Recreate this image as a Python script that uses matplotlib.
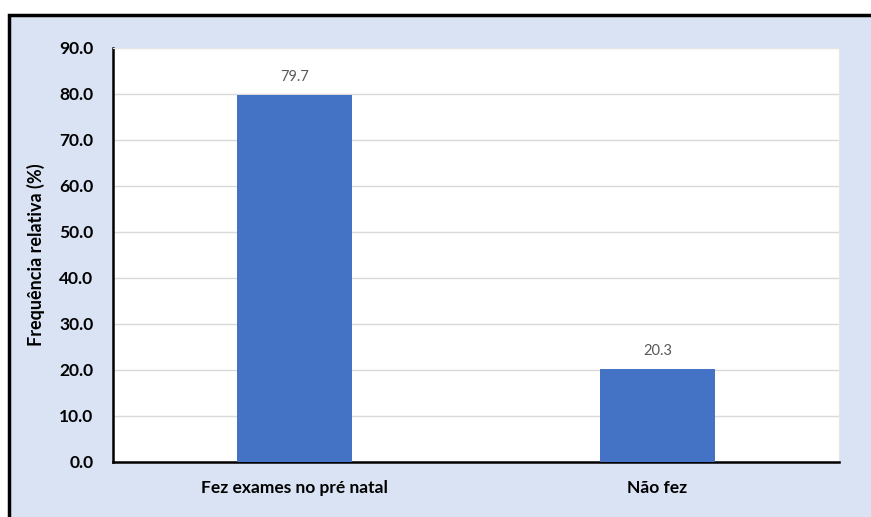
import matplotlib
matplotlib.use("Agg")
import matplotlib.pyplot as plt
from matplotlib.patches import Rectangle

categorias = ["Fez exames no pré natal", "Não fez"]
frequencias = [79.7, 20.3]
yticks = [0, 10, 20, 30, 40, 50, 60, 70, 80, 90]

plt.rcParams['font.family'] = ['Lato', 'DejaVu Sans']

fig = plt.figure(figsize=(8.71, 5.17), dpi=100)
fig.patch.set_facecolor("white")

# fundo azul com moldura preta (cortada à direita e em baixo)
fundo = Rectangle((9 / 871, -0.05), 1.0, 1 - 15 / 517 + 0.05,
                  transform=fig.transFigure, facecolor="#dae3f3",
                  edgecolor="black", linewidth=2.5, zorder=-5)
fig.patches.append(fundo)

ax = fig.add_axes([113 / 871, 1 - 462 / 517, (839 - 113) / 871, (462 - 48) / 517])
ax.set_zorder(2)
ax.set_facecolor("white")

x = range(len(categorias))
barras = ax.bar(x, frequencias, width=0.315, color="#4472c4", zorder=3)

for xi, v in zip(x, frequencias):
    ax.annotate(f"{v:.1f}", (xi, v), xytext=(0, 8), textcoords="offset points",
                ha="center", va="bottom", fontsize=10.5, color="#595959")

ax.set_xlim(-0.5, 1.5)
ax.set_ylim(0, 90)
ax.set_yticks(yticks)
ax.set_yticklabels([f"{t:.1f}" for t in yticks], fontsize=12.5, fontweight="bold")
ax.set_xticks(list(x))
ax.set_xticklabels(categorias, fontsize=12.5, fontweight="bold")
ax.tick_params(axis="y", length=0, pad=14)
ax.tick_params(axis="x", length=0, pad=13)
ax.grid(axis="y", color="#d9d9d9", linewidth=1, zorder=0)
ax.set_axisbelow(True)

ax.set_ylabel("Frequência relativa (%)", fontsize=13, fontweight="bold", labelpad=10.5)

ax.spines["left"].set_color("black")
ax.spines["left"].set_linewidth(1.8)
ax.spines["bottom"].set_color("black")
ax.spines["bottom"].set_linewidth(1.8)
ax.spines["top"].set_color("#e6e6e6")
ax.spines["right"].set_color("#e6e6e6")
ax.spines["top"].set_linewidth(0.8)
ax.spines["right"].set_linewidth(0.8)

fig.savefig("out.png", dpi=100)
